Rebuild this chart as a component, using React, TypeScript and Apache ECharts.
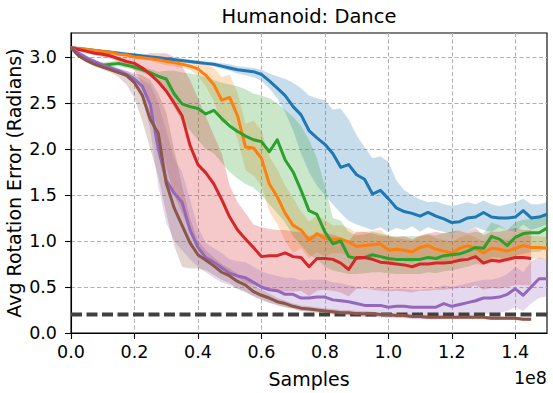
import React, { useEffect, useRef } from "react";
import * as echarts from "echarts";

// x positions in units of 1e8 samples
const samples = [0, 0.025, 0.05, 0.075, 0.1, 0.125, 0.15, 0.175, 0.2, 0.225, 0.25, 0.275, 0.3, 0.325, 0.35, 0.375, 0.4, 0.425, 0.45, 0.475, 0.5, 0.525, 0.55, 0.575, 0.6, 0.625, 0.65, 0.675, 0.7, 0.725, 0.75, 0.775, 0.8, 0.825, 0.85, 0.875, 0.9, 0.925, 0.95, 0.975, 1.0, 1.025, 1.05, 1.075, 1.1, 1.125, 1.15, 1.175, 1.2, 1.225, 1.25, 1.275, 1.3, 1.325, 1.35, 1.375, 1.4, 1.425, 1.45, 1.475, 1.5];

const xTicks = [0, 0.2, 0.4, 0.6, 0.8, 1.0, 1.2, 1.4];
const yTicks = [0, 0.5, 1.0, 1.5, 2.0, 2.5, 3.0];
const targetLevel = 0.2;

const blueMean = [3.10,3.09,3.08,3.07,3.06,3.05,3.04,3.03,3.02,3.01,3.00,2.99,2.98,2.97,2.96,2.95,2.94,2.93,2.92,2.90,2.88,2.86,2.85,2.84,2.81,2.74,2.66,2.58,2.46,2.37,2.20,2.12,2.05,1.95,1.80,1.83,1.72,1.67,1.51,1.55,1.46,1.36,1.32,1.30,1.27,1.31,1.27,1.24,1.20,1.21,1.25,1.26,1.31,1.26,1.25,1.25,1.26,1.33,1.25,1.26,1.29];
const blueHi = [3.12,3.11,3.10,3.09,3.08,3.07,3.06,3.05,3.04,3.03,3.02,3.01,3.00,2.99,2.98,2.97,2.96,2.95,2.94,2.93,2.92,2.90,2.89,2.88,2.86,2.82,2.79,2.76,2.72,2.66,2.58,2.55,2.53,2.43,2.44,2.32,2.15,2.02,1.90,1.92,1.86,1.66,1.55,1.50,1.45,1.42,1.43,1.40,1.38,1.40,1.42,1.40,1.44,1.40,1.38,1.40,1.42,1.46,1.40,1.40,1.42];
const blueLo = [3.08,3.07,3.06,3.05,3.04,3.03,3.02,3.01,3.00,2.99,2.98,2.97,2.96,2.95,2.94,2.93,2.92,2.91,2.90,2.87,2.85,2.82,2.80,2.78,2.74,2.66,2.55,2.40,2.20,1.95,1.75,1.60,1.50,1.40,1.30,1.22,1.18,1.15,1.12,1.15,1.10,1.14,1.12,1.16,1.10,1.15,1.12,1.10,1.08,1.12,1.10,1.15,1.12,1.10,1.15,1.12,1.10,1.18,1.12,1.15,1.18];

const orangeMean = [3.10,3.09,3.08,3.07,3.06,3.05,3.03,3.02,3.00,2.99,2.98,2.97,2.95,2.94,2.92,2.90,2.87,2.80,2.70,2.53,2.56,2.36,2.02,2.01,1.90,1.62,1.48,1.30,1.17,1.12,1.01,1.08,1.03,1.02,1.02,0.99,0.94,0.95,0.96,0.97,0.90,0.91,0.90,0.88,0.93,0.95,0.91,0.89,0.87,0.92,0.95,0.92,0.87,0.92,0.91,0.89,0.92,0.95,0.93,0.93,0.92];
const orangeHi = [3.12,3.11,3.10,3.09,3.08,3.07,3.05,3.04,3.02,3.01,3.00,3.01,2.99,2.98,2.96,2.94,2.95,2.92,2.88,2.78,2.81,2.61,2.27,2.31,2.20,1.92,1.78,1.60,1.47,1.32,1.21,1.28,1.23,1.17,1.17,1.14,1.09,1.10,1.11,1.12,1.05,1.03,1.02,1.00,1.05,1.07,1.03,1.01,0.99,1.04,1.07,1.04,0.99,1.04,1.03,1.01,1.04,1.07,1.05,1.05,1.04];
const orangeLo = [3.08,3.07,3.06,3.05,3.04,3.03,3.01,3.00,2.98,2.97,2.96,2.93,2.91,2.90,2.88,2.86,2.79,2.68,2.52,2.28,2.31,2.11,1.77,1.71,1.60,1.32,1.18,1.00,0.87,0.92,0.81,0.88,0.83,0.87,0.87,0.84,0.79,0.80,0.81,0.82,0.75,0.79,0.78,0.76,0.81,0.83,0.79,0.77,0.75,0.80,0.83,0.80,0.75,0.80,0.79,0.77,0.80,0.83,0.81,0.81,0.80];

const greenMean = [3.10,3.02,2.97,2.93,2.91,2.92,2.93,2.91,2.89,2.86,2.83,2.79,2.76,2.60,2.49,2.46,2.44,2.38,2.42,2.33,2.25,2.19,2.14,2.10,2.08,1.97,2.10,1.88,1.75,1.55,1.33,1.29,1.10,0.97,1.00,0.83,0.81,0.82,0.85,0.83,0.81,0.80,0.80,0.80,0.80,0.82,0.81,0.84,0.85,0.86,0.89,0.93,0.92,1.05,1.02,0.95,1.04,1.08,1.09,1.09,1.14];
const greenHi = [3.12,3.05,3.00,2.96,2.94,2.95,2.96,2.94,2.92,2.89,2.87,2.84,2.85,2.85,2.83,2.82,2.80,2.78,2.75,2.72,2.70,2.68,2.65,2.60,2.58,2.55,2.50,2.42,2.35,2.25,2.10,1.90,1.60,1.25,1.22,1.10,1.06,1.07,1.10,1.08,1.06,1.05,1.05,1.05,1.05,1.07,1.06,1.09,1.10,1.11,1.08,1.10,1.08,1.20,1.17,1.12,1.20,1.23,1.24,1.25,1.30];
const greenLo = [3.08,2.99,2.94,2.90,2.88,2.89,2.90,2.88,2.86,2.83,2.79,2.74,2.65,2.45,2.30,2.20,2.10,2.00,1.95,1.85,1.75,1.68,1.62,1.58,1.50,1.40,1.30,1.20,1.05,0.95,0.85,0.80,0.72,0.68,0.66,0.64,0.64,0.65,0.66,0.66,0.65,0.64,0.64,0.64,0.64,0.66,0.65,0.67,0.68,0.70,0.72,0.75,0.74,0.82,0.82,0.78,0.84,0.86,0.88,0.88,0.92];

const redMean = [3.10,3.08,3.06,3.04,3.03,3.01,2.98,2.95,2.93,2.88,2.81,2.73,2.63,2.50,2.36,2.04,1.83,1.74,1.62,1.45,1.26,1.12,1.02,0.93,0.83,0.84,0.84,0.87,0.83,0.82,0.72,0.81,0.81,0.80,0.76,0.69,0.82,0.82,0.80,0.77,0.76,0.75,0.74,0.72,0.75,0.75,0.76,0.76,0.77,0.79,0.80,0.83,0.76,0.79,0.78,0.80,0.82,0.82,0.81];
const redHi = [3.12,3.10,3.08,3.06,3.05,3.03,3.01,3.00,3.00,3.02,3.04,3.04,3.04,3.00,2.90,2.75,2.55,2.35,2.15,1.95,1.60,1.42,1.30,1.18,1.15,1.13,1.12,1.12,1.10,1.10,1.05,1.08,1.08,1.07,1.04,1.00,1.10,1.10,1.08,1.06,1.05,1.04,1.05,1.02,1.06,1.08,1.10,1.08,1.10,1.12,1.10,1.14,1.06,1.10,1.10,1.12,1.14,1.12,1.12];
const redLo = [3.08,3.06,3.04,3.02,3.00,2.98,2.95,2.92,2.85,2.70,2.50,2.20,1.80,1.50,1.30,1.10,0.95,0.85,0.78,0.72,0.66,0.60,0.55,0.52,0.50,0.48,0.46,0.45,0.45,0.46,0.40,0.46,0.47,0.46,0.44,0.40,0.48,0.48,0.47,0.46,0.45,0.46,0.45,0.44,0.46,0.46,0.47,0.47,0.48,0.49,0.49,0.52,0.47,0.49,0.48,0.50,0.52,0.52,0.52];

const purpleMean = [3.10,3.04,2.99,2.95,2.91,2.88,2.85,2.81,2.76,2.68,2.48,2.00,1.66,1.52,1.42,1.12,0.93,0.82,0.77,0.71,0.65,0.62,0.60,0.55,0.50,0.47,0.46,0.42,0.42,0.38,0.38,0.39,0.39,0.36,0.35,0.34,0.32,0.30,0.30,0.30,0.28,0.29,0.29,0.28,0.28,0.28,0.28,0.32,0.29,0.31,0.33,0.35,0.38,0.38,0.39,0.42,0.48,0.41,0.50,0.59,0.59];
const purpleHi = [3.12,3.06,3.01,2.97,2.94,2.91,2.88,2.85,2.80,2.75,2.70,2.50,2.20,1.90,1.75,1.45,1.15,0.98,0.92,0.87,0.80,0.78,0.77,0.72,0.67,0.64,0.62,0.60,0.60,0.57,0.58,0.58,0.58,0.55,0.54,0.52,0.50,0.48,0.48,0.50,0.47,0.48,0.48,0.47,0.47,0.48,0.48,0.52,0.50,0.52,0.54,0.56,0.58,0.58,0.60,0.64,0.72,0.66,0.78,0.82,0.80];
const purpleLo = [3.08,3.02,2.97,2.92,2.88,2.85,2.82,2.77,2.70,2.55,2.20,1.60,1.20,1.00,0.90,0.80,0.72,0.66,0.60,0.55,0.52,0.48,0.44,0.40,0.36,0.33,0.31,0.28,0.27,0.24,0.24,0.24,0.24,0.22,0.21,0.20,0.19,0.18,0.17,0.17,0.16,0.16,0.16,0.15,0.15,0.15,0.15,0.17,0.16,0.17,0.18,0.19,0.21,0.21,0.22,0.24,0.28,0.24,0.32,0.38,0.40];

const brownMean = [3.10,3.01,2.96,2.92,2.89,2.86,2.83,2.80,2.72,2.58,2.32,2.17,1.63,1.36,1.17,0.98,0.85,0.79,0.73,0.66,0.62,0.56,0.52,0.45,0.41,0.38,0.34,0.32,0.29,0.27,0.26,0.25,0.24,0.23,0.22,0.22,0.21,0.21,0.21,0.20,0.20,0.19,0.19,0.18,0.18,0.17,0.17,0.17,0.17,0.17,0.17,0.17,0.17,0.16,0.16,0.16,0.16,0.15,0.15];
const brownHi = [3.12,3.03,2.98,2.94,2.91,2.89,2.87,2.85,2.82,2.80,2.75,2.60,2.40,2.00,1.60,1.25,1.00,0.90,0.82,0.75,0.70,0.64,0.60,0.52,0.47,0.43,0.38,0.35,0.32,0.30,0.29,0.28,0.27,0.26,0.25,0.25,0.24,0.24,0.23,0.22,0.22,0.21,0.21,0.20,0.20,0.19,0.19,0.19,0.19,0.19,0.19,0.19,0.19,0.18,0.18,0.18,0.18,0.17,0.17];
const brownLo = [3.08,2.99,2.94,2.90,2.86,2.83,2.78,2.70,2.55,2.30,2.00,1.70,1.30,0.95,0.72,0.70,0.70,0.68,0.63,0.58,0.54,0.48,0.45,0.40,0.36,0.33,0.30,0.28,0.26,0.24,0.23,0.22,0.21,0.20,0.19,0.19,0.18,0.18,0.18,0.18,0.18,0.17,0.17,0.16,0.16,0.15,0.15,0.15,0.15,0.15,0.15,0.15,0.15,0.14,0.14,0.14,0.14,0.13,0.13];

const runs = [
  { name: "blue", color: "#1f77b4", rgb: "31,119,180", mean: blueMean, hi: blueHi, lo: blueLo },
  { name: "orange", color: "#ff7f0e", rgb: "255,127,14", mean: orangeMean, hi: orangeHi, lo: orangeLo },
  { name: "green", color: "#2ca02c", rgb: "44,160,44", mean: greenMean, hi: greenHi, lo: greenLo },
  { name: "red", color: "#d62728", rgb: "214,39,40", mean: redMean, hi: redHi, lo: redLo },
  { name: "purple", color: "#9467bd", rgb: "148,103,189", mean: purpleMean, hi: purpleHi, lo: purpleLo },
  { name: "brown", color: "#8c564b", rgb: "140,86,75", mean: brownMean, hi: brownHi, lo: brownLo },
];

const FONT = "DejaVu Sans";

export default function App() {
  const ref = useRef<HTMLDivElement>(null);
  useEffect(() => {
    if (!ref.current) return;
    const chart = echarts.init(ref.current, null, { renderer: "svg" });

    const bandSeries = runs.map((r) => ({
      type: "custom",
      name: r.name + " band",
      silent: true,
      z: 1,
      encode: { x: 0, y: [1, 2] },
      data: r.mean.map((_, i) => [samples[i], r.lo[i], r.hi[i]]),
      renderItem: (params: any, api: any) => {
        if (params.dataIndex !== 0) return null;
        const top = r.hi.map((v, i) => api.coord([samples[i], v]));
        const bot = r.lo.map((v, i) => api.coord([samples[i], v])).reverse();
        return {
          type: "polygon",
          shape: { points: top.concat(bot) },
          style: { fill: `rgba(${r.rgb},0.25)`, stroke: "none" },
        };
      },
    }));

    const lineSeries = runs.map((r) => ({
      type: "line",
      name: r.name,
      z: 3,
      silent: true,
      showSymbol: false,
      symbol: "none",
      data: r.mean.map((v, i) => [samples[i], v]),
      lineStyle: { color: r.color, width: 3, join: "round", cap: "butt" },
    }));

    const targetSeries = {
      type: "line",
      name: "target",
      z: 2,
      silent: true,
      symbol: "none",
      data: [
        [samples[0], targetLevel],
        [samples[samples.length - 1], targetLevel],
      ],
      lineStyle: { color: "#404040", width: 4, type: [11, 4.5] },
    };

    chart.setOption({
      animation: false,
      backgroundColor: "#ffffff",
      textStyle: { fontFamily: FONT },
      grid: {
        left: 71,
        top: 33,
        width: 476,
        height: 300,
        show: true,
        borderColor: "#000",
        borderWidth: 1.1,
        backgroundColor: "transparent",
      },
      xAxis: {
        type: "value",
        min: 0,
        max: 1.5,
        interval: 0.2,
        axisLine: { show: true, onZero: false, lineStyle: { color: "#000", width: 1.1 } },
        axisTick: { show: true, length: 6, customValues: xTicks, lineStyle: { color: "#000", width: 1.1 } },
        axisLabel: {
          customValues: xTicks,
          formatter: (v: number) => v.toFixed(1),
          color: "#000",
          fontSize: 17.5,
          fontFamily: FONT,
          margin: 10,
        },
        splitLine: { show: true, lineStyle: { color: "#b0b0b0", width: 1, type: [4, 2.5] } },
      },
      yAxis: {
        type: "value",
        min: 0,
        max: 3.26,
        interval: 0.5,
        axisLine: { show: true, onZero: false, lineStyle: { color: "#000", width: 1.1 } },
        axisTick: { show: true, length: 6, customValues: yTicks, lineStyle: { color: "#000", width: 1.1 } },
        axisLabel: {
          customValues: yTicks,
          formatter: (v: number) => v.toFixed(1),
          color: "#000",
          fontSize: 17.5,
          fontFamily: FONT,
          margin: 14,
        },
        splitLine: { show: true, lineStyle: { color: "#b0b0b0", width: 1, type: [4, 2.5] } },
      },
      graphic: [
        {
          type: "text",
          x: 309,
          y: 16,
          style: {
            text: "Humanoid: Dance",
            fill: "#000",
            font: `19.5px "${FONT}"`,
            textAlign: "center",
            textVerticalAlign: "middle",
          },
        },
        {
          type: "text",
          x: 309,
          y: 379,
          style: {
            text: "Samples",
            fill: "#000",
            font: `19px "${FONT}"`,
            textAlign: "center",
            textVerticalAlign: "middle",
          },
        },
        {
          type: "text",
          x: 547,
          y: 378,
          style: {
            text: "1e8",
            fill: "#000",
            font: `17.5px "${FONT}"`,
            textAlign: "right",
            textVerticalAlign: "middle",
          },
        },
        {
          type: "text",
          x: 14,
          y: 183,
          rotation: Math.PI / 2,
          style: {
            text: "Avg Rotation Error (Radians)",
            fill: "#000",
            font: `19px "${FONT}"`,
            textAlign: "center",
            textVerticalAlign: "middle",
          },
        },
      ],
      series: [...bandSeries, targetSeries, ...lineSeries],
    });
    return () => chart.dispose();
  }, []);

  return (
    <div
      ref={ref}
      style={{ position: "absolute", left: 0, top: 0, width: 553, height: 393, background: "#fff" }}
    />
  );
}
